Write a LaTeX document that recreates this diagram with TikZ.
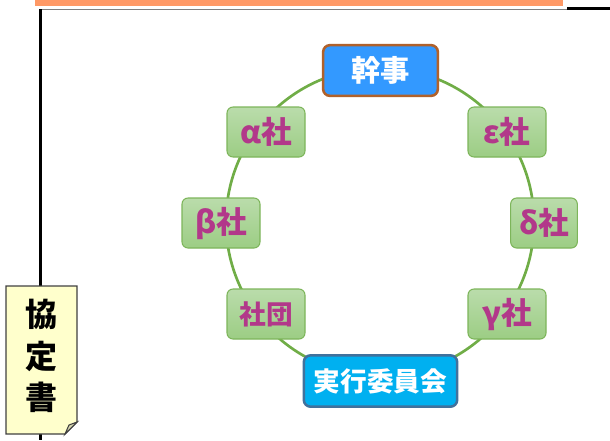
\documentclass[tikz,border=0pt]{standalone}
\usepackage{fontspec}
\setmainfont{Noto Sans CJK JP}
\begin{document}
\definecolor{ringgreen}{HTML}{70AD47}
\definecolor{boxborder}{HTML}{7DB55A}
\definecolor{boxtop}{HTML}{BADCAB}
\definecolor{boxbot}{HTML}{9CCD84}
\definecolor{magtext}{HTML}{B2388A}
\definecolor{kanjifill}{HTML}{3399FF}
\definecolor{kanjiborder}{HTML}{B0612B}
\definecolor{jikkofill}{HTML}{00B0F0}
\definecolor{jikkoborder}{HTML}{41719C}
\definecolor{notefill}{HTML}{FFFFCC}
\definecolor{foldfill}{HTML}{D8D8B0}
\definecolor{orangebar}{HTML}{FF9966}
\begin{tikzpicture}[x=0.75pt,y=-0.75pt,
  greenbox/.style={draw=boxborder,line width=0.8pt,rounded corners=4.5pt,
    top color=boxtop,bottom color=boxbot,minimum width=58.5pt,minimum height=37.5pt,
    inner sep=0pt,text=magtext,font=\fontsize{23}{25}\selectfont\bfseries},
  bluebox/.style={line width=1.9pt,rounded corners=5pt,inner sep=0pt,
    text=white,font=\fontsize{22}{24}\selectfont\bfseries},
  ring/.style={draw=ringgreen,line width=2pt}]
\useasboundingbox (0,0) rectangle (610,440);
% top decorations
\fill[orangebar] (35,0) rectangle (563,5.5);
\draw[gray,line width=0.8pt] (40,9.5) -- (567,9.5);
\draw[black,line width=1.6pt] (567,8.5) -- (610,8.5);
% vertical line
\coordinate (vtop) at (40.5,9);
\coordinate (vbot) at (40.5,440);
\draw[black,line width=2.2pt] (vtop) -- (vbot);
% note
\draw[draw=black!75,line width=0.8pt,fill=notefill]
  (6,286) -- (77,286) -- (77,422) -- (65,434) -- (6,434) -- cycle;
\draw[draw=black!75,line width=0.8pt,fill=foldfill]
  (77,422) -- (69,425) -- (65,434) -- cycle;
\node[font=\fontsize{24}{26}\selectfont\bfseries,inner sep=0pt] (kyo) at (41,314) {協};
\node[font=\fontsize{24}{26}\selectfont\bfseries,inner sep=0pt] (tei) at (41,356) {定};
\node[font=\fontsize{24}{26}\selectfont\bfseries,inner sep=0pt] (sho) at (41,397) {書};
% ring
\coordinate (center) at (380,222);
\draw[ring] (center) circle[radius=154];
% nodes
\node[bluebox,draw=kanjiborder,fill=kanjifill,minimum width=86pt,minimum height=38pt] (kanji) at (380.5,70.5) {幹事};
\node[bluebox,draw=jikkoborder,fill=jikkofill,minimum width=115pt,minimum height=38.5pt,
  font=\fontsize{20}{22}\selectfont\bfseries] (jikko) at (380.5,381) {実行委員会};
\node[greenbox] (alpha) at (266,132) {α社};
\node[greenbox] (beta) at (221,223) {β社};
\node[greenbox,font=\fontsize{20}{22}\selectfont\bfseries] (shadan) at (266,314) {社団};
\node[greenbox] (eps) at (507,132) {ε社};
\node[greenbox,minimum width=50pt] (delta) at (544,223) {δ社};
\node[greenbox] (gamma) at (507,314) {γ社};
\end{tikzpicture}
\end{document}
